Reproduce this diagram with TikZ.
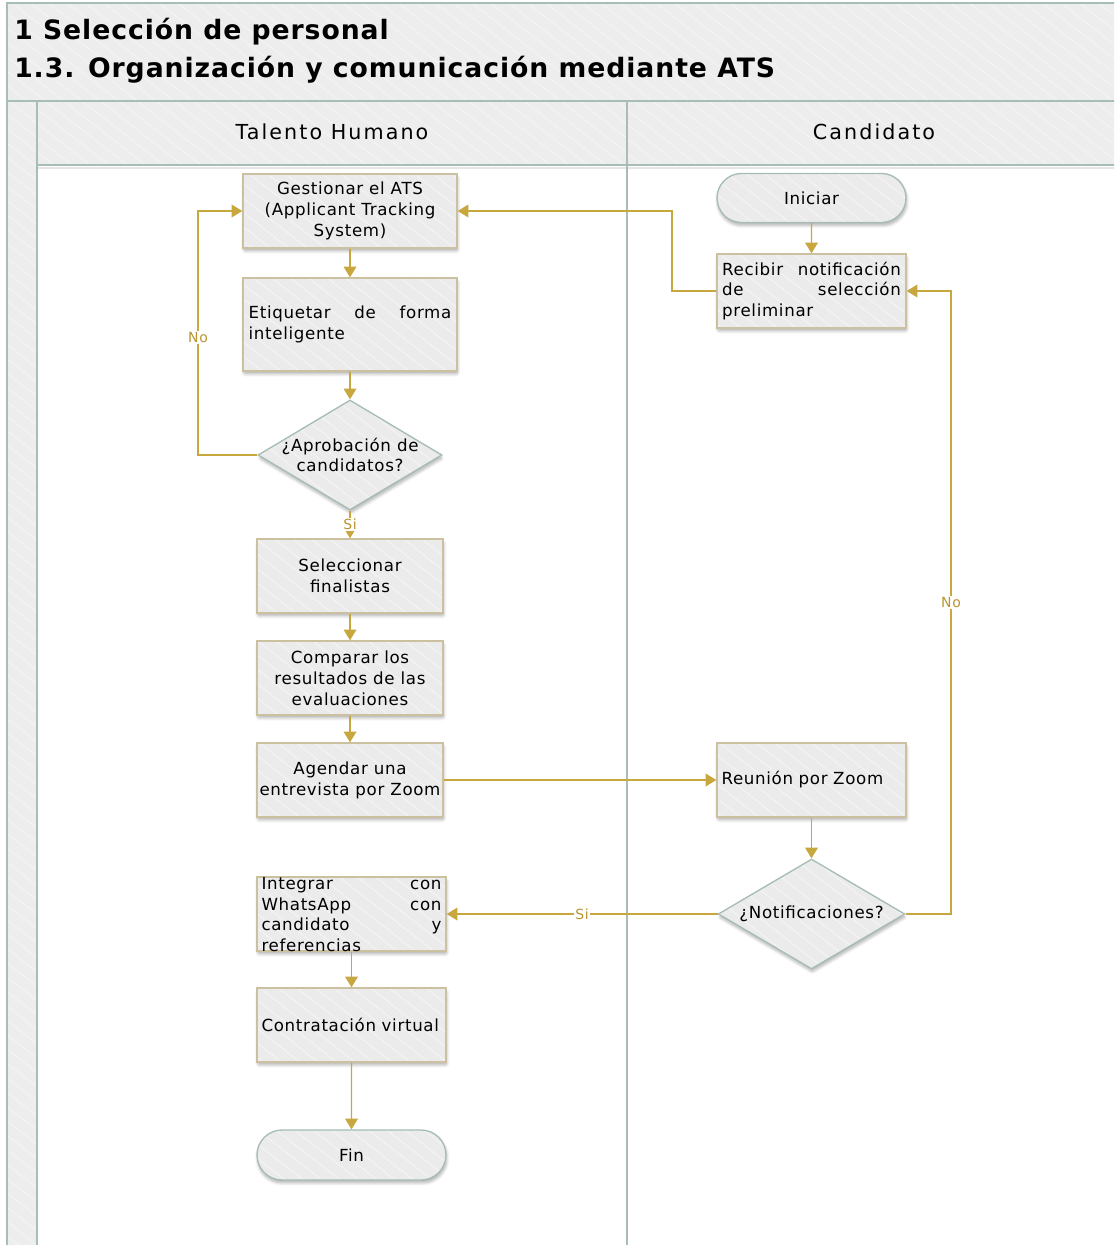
\documentclass[tikz,border=0pt]{standalone}
\usepackage{fontspec}
\setmainfont{DejaVu Sans}
\newfontfamily\boxfont[LetterSpace=4]{DejaVu Sans}
\newfontfamily\headfont[LetterSpace=10]{DejaVu Sans}
\newfontfamily\titlefont[LetterSpace=3.5]{DejaVu Sans}
\newfontfamily\smallfont[LetterSpace=5]{DejaVu Sans}
\usetikzlibrary{shapes.geometric,shapes.misc,shadows,shadows.blur,arrows.meta,patterns.meta}

\definecolor{goldline}{HTML}{C9A73F}
\definecolor{goldtext}{HTML}{B7952F}
\definecolor{tanborder}{HTML}{CBC1A0}
\definecolor{sageborder}{HTML}{A6BCB4}
\definecolor{framecol}{HTML}{A8BDB6}
\definecolor{shapefill}{HTML}{EBEBEB}
\definecolor{bandfill}{HTML}{EDEDED}
\definecolor{stripecol}{HTML}{F3F3F3}

\begin{document}
\begin{tikzpicture}[x=0.75pt,y=-0.75pt,
  striped/.style={preaction={fill=#1},
    pattern={Lines[angle=-38,distance=8.5pt,line width=0.9pt]},
    pattern color=stripecol},
  band/.style={striped=bandfill},
  frame/.style={draw=framecol,line width=1.5pt},
  softshadow/.style={blur shadow={shadow xshift=0.6pt,shadow yshift=-2.2pt,
    shadow blur steps=6,shadow blur extra rounding=1pt,shadow opacity=30}},
  boxtext/.style={font=\boxfont\fontsize{12.5pt}{15.6pt}\selectfont},
  proc/.style={rectangle,draw=tanborder,line width=1pt,softshadow,
    striped=shapefill,inner sep=0pt,boxtext,align=center},
  term/.style={rounded rectangle,draw=sageborder,line width=1pt,softshadow,
    striped=shapefill,inner sep=0pt,boxtext,minimum width=141.75pt},
  decision/.style={diamond,draw=sageborder,line width=1pt,softshadow,
    striped=shapefill,inner sep=0pt},
  plain/.style={boxtext,inner sep=0pt},
  flow/.style={draw=goldline,line width=1pt,-{Triangle[width=9.5pt,length=8pt]}},
  lbl/.style={font=\smallfont\fontsize{10.5pt}{12pt}\selectfont,text=goldtext,
    fill=white,inner sep=1pt},
  lanetitle/.style={font=\headfont\fontsize{15.5pt}{18pt}\selectfont},
  maintitle/.style={font=\titlefont\bfseries\fontsize{20pt}{24pt}\selectfont,
    anchor=west,inner sep=0pt}
]
\useasboundingbox (0,0) rectangle (1114,1245);

% ---- pool and lanes ----
\begin{scope}
  \clip (0,0) rectangle (1114,1245);
  \path[band] (7,3) rectangle (1130,101);
  \path[band] (7,101) rectangle (37,1260);
  \path[band] (37,101) rectangle (627,165);
  \path[band] (627,101) rectangle (1130,165);
  \draw[black!10,line width=1.5pt] (37,168) -- (1130,168);
  \draw[frame] (7,1260) -- (7,3) -- (1130,3);
  \draw[frame] (7,101) -- (1130,101);
  \draw[frame] (37,101) -- (37,1260);
  \draw[frame] (37,165) -- (1130,165);
  \draw[frame] (627,101) -- (627,1260);
\end{scope}

\node[maintitle] (title1) at (14,32) {1 Selección de personal};
\node[maintitle] (title2) at (14,70) {1.3. Organización y comunicación mediante ATS};
\node[lanetitle] (laneTH) at (332,132) {Talento Humano};
\node[lanetitle] (laneC) at (874,132) {Candidato};

% ---- Talento Humano ----
\node[proc,minimum width=160.5pt,minimum height=55.5pt] (ats) at (350,211)
  {Gestionar el ATS\\(Applicant Tracking\\System)};
\node[proc,minimum width=160.5pt,minimum height=69.75pt,text width=152pt,align=left]
  (tag) at (350,324.5) {Etiquetar\hfill de\hfill forma\\inteligente};
\node[decision,minimum width=138pt,minimum height=82.5pt] (apr) at (350,455) {};
\node[plain,align=center] (aprtxt) at (350,455) {¿Aprobación de\\candidatos?};
\node[proc,minimum width=139.5pt,minimum height=55.5pt] (sel) at (350,576)
  {Seleccionar\\finalistas};
\node[proc,minimum width=139.5pt,minimum height=55.5pt] (cmp) at (350,678)
  {Comparar los\\resultados de las\\evaluaciones};
\node[proc,minimum width=139.5pt,minimum height=55.5pt] (agd) at (350,780)
  {Agendar una\\entrevista por Zoom};
\node[proc,minimum width=141.75pt,minimum height=55.5pt] (wsp) at (351.5,914) {};
\node[plain,text width=135pt,align=left] (wsptxt) at (351.5,914.5)
  {Integrar\hfill con\\WhatsApp\hfill con\\candidato\hfill y\\referencias};
\node[proc,minimum width=141.75pt,minimum height=55.5pt,text width=135pt,align=left]
  (ctr) at (351.5,1025) {Contratación virtual};
\node[term,minimum height=37.5pt] (fin) at (351.5,1155) {Fin};

% ---- Candidato ----
\node[term,minimum height=36.75pt] (ini) at (811.5,198) {Iniciar};
\node[proc,minimum width=141.75pt,minimum height=55.5pt,text width=134pt,align=left]
  (rcb) at (811.5,291) {Recibir\hfill notificación\\de\hfill selección\\preliminar};
\node[proc,minimum width=141.75pt,minimum height=55.5pt,text width=135pt,align=left]
  (zoom) at (811.5,780) {Reunión por Zoom};
\node[decision,minimum width=140pt,minimum height=82.5pt] (ntf) at (811.5,914) {};
\node[plain] (ntftxt) at (811.5,914) {¿Notificaciones?};

% ---- bends ----
\coordinate (noL) at (198,455);
\coordinate (rcbL) at (672,291);
\coordinate (noR) at (951,914);

% ---- connectors ----
\draw[flow] (ats) -- (tag);
\draw[flow] (tag) -- (apr);
\draw[flow] (apr.west) -- (noL) |- node[lbl,pos=0.24] {No} (ats.west);
\draw[flow] (apr.south) -- node[lbl,pos=0.5] {Si} (sel.north);
\draw[flow] (sel) -- (cmp);
\draw[flow] (cmp) -- (agd);
\draw[flow] (agd.east) -- (zoom.west);
\draw[flow] (ini) -- (rcb);
\draw[flow] (rcb.west) -- (rcbL) |- (ats.east);
\draw[flow] (zoom.south) -- (ntf.north);
\draw[flow] (ntf.west) -- node[lbl,pos=0.5] {Si} (wsp.east);
\draw[flow] (ntf.east) -- (noR) |- node[lbl,pos=0.25] {No} (rcb.east);
\draw[flow] (wsp) -- (ctr);
\draw[flow] (ctr) -- (fin);
\end{tikzpicture}
\end{document}
